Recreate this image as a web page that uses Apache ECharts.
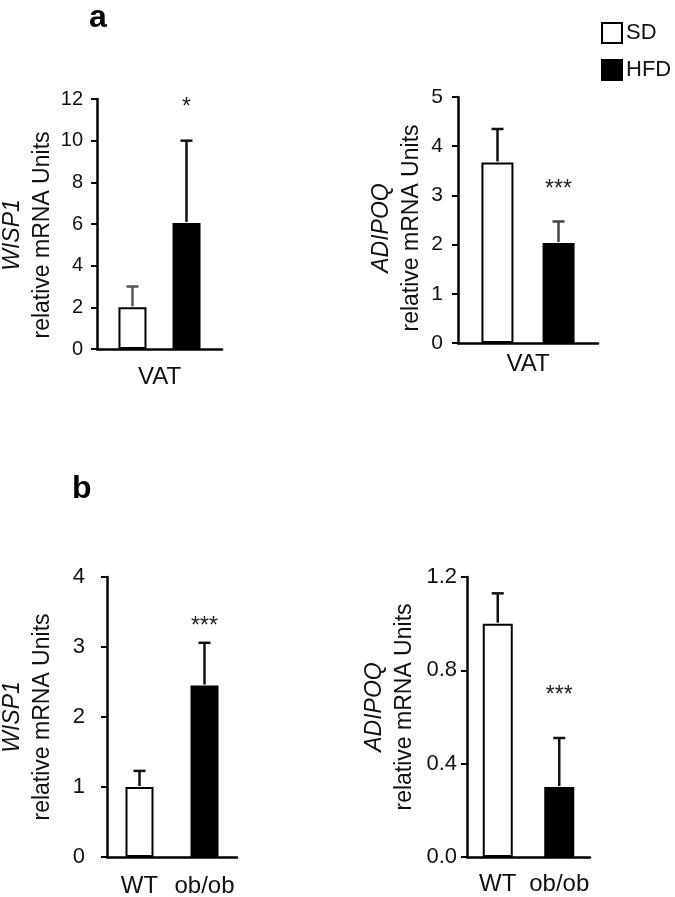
<!DOCTYPE html>
<html><head><meta charset="utf-8">
<script src="https://cdn.jsdelivr.net/npm/echarts@6.0.0/dist/echarts.min.js"></script>
<style>html,body{margin:0;padding:0;background:#fff}#c{width:675px;height:897px}</style>
</head><body><div id="c"></div>
<script>
// ---------- data ----------
const topCategory = ['VAT'];
const groupNames = ['SD', 'HFD'];
const botCategories = ['WT', 'ob/ob'];
const wispA = [2.0, 6.05];
const wispAErr = [3.0, 10.0];
const adipoqA = [3.67, 2.03];
const adipoqAErr = [4.35, 2.47];
const wispB = [1.0, 2.45];
const wispBErr = [1.23, 3.06];
const adipoqB = [1.0, 0.30];
const adipoqBErr = [1.13, 0.51];
const sigText = ['*', '***', '***', '***'];
const sigY = [11.6, 3.11, 3.29, 0.69];
const yMax = [12, 5, 4, 1.2];
const yInterval = [2, 1, 1, 0.4];
const yDecimals = [0, 0, 0, 1];
const geneNames = ['WISP1', 'ADIPOQ', 'WISP1', 'ADIPOQ'];
const panelLetters = ['a', 'b'];

// ---------- layout / style ----------
const FONT = "'Liberation Sans', Arial, sans-serif";
const fillColors = ['#ffffff', '#000000'];
const errColors = [['#555', '#111'], ['#111', '#444'], ['#111', '#111'], ['#111', '#111']];
const grids = [
  {left: 97, top: 99, width: 125, height: 250},
  {left: 458, top: 97, width: 140, height: 246},
  {left: 107, top: 577, width: 130, height: 280},
  {left: 467, top: 577, width: 123, height: 280}
];
const barW = [28, 32, 28, 30];
const barGapPx = [26, 29, 0, 0];
const nameGaps = [39, 31, 49, 47];
const namePad = [22, 16, 0, -20];
const yLabelMargin = [14, 15, 22, 10];
const yLabelSize = [20, 21, 22, 22];
const xLabelMargin = [16, 9, 17, 15];

const means = [wispA, adipoqA, wispB, adipoqB];
const uppers = [wispAErr, adipoqAErr, wispBErr, adipoqBErr];
const isTop = [true, true, false, false];

const xAxes = [], yAxes = [], series = [];
for (let g = 0; g < 4; g++) {
  xAxes.push({
    type: 'category', gridIndex: g,
    data: isTop[g] ? topCategory : botCategories,
    axisLine: {lineStyle: {color: '#000', width: 2.5}},
    axisTick: {show: false},
    axisLabel: {fontSize: 24, color: '#111', fontFamily: FONT, margin: xLabelMargin[g],
      interval: 0, hideOverlap: false}
  });
  yAxes.push({
    type: 'value', gridIndex: g, min: 0, max: yMax[g], interval: yInterval[g],
    splitLine: {show: false},
    axisLine: {show: true, lineStyle: {color: '#000', width: 2.5}},
    axisTick: {show: true, length: 6, lineStyle: {color: '#000', width: 2}},
    axisLabel: {fontSize: yLabelSize[g], color: '#111', fontFamily: FONT, margin: yLabelMargin[g],
      formatter: (v) => v.toFixed(yDecimals[g])},
    name: '{i|' + geneNames[g] + '}\n{n|relative mRNA Units}',
    nameLocation: 'middle', nameRotate: 90, nameGap: nameGaps[g],
    nameMoveOverlap: false,
    nameTextStyle: {
      color: '#111', fontFamily: FONT, fontSize: 23, lineHeight: 30,
      padding: namePad[g] >= 0 ? [0, namePad[g], 0, 0] : [0, 0, 0, -namePad[g]],
      rich: {
        i: {fontStyle: 'italic', fontSize: 23, lineHeight: 30, fontFamily: FONT, color: '#111'},
        n: {fontSize: 23, lineHeight: 30, fontFamily: FONT, color: '#111'}
      }
    }
  });

  let offsets;
  if (isTop[g]) {
    const half = (barW[g] + barGapPx[g]) / 2;
    offsets = [-half, half];
    groupNames.forEach((nm, k) => {
      series.push({
        type: 'bar', name: nm, xAxisIndex: g, yAxisIndex: g,
        data: [means[g][k]], barWidth: barW[g],
        barGap: Math.round(barGapPx[g] / barW[g] * 100) + '%',
        itemStyle: {color: fillColors[k], borderColor: '#000', borderWidth: 2},
        z: 2
      });
    });
  } else {
    offsets = [0, 0];
    series.push({
      type: 'bar', name: 'panelb' + g, xAxisIndex: g, yAxisIndex: g,
      data: means[g].map((v, k) => ({value: v, itemStyle: {color: fillColors[k]}})),
      barWidth: barW[g],
      itemStyle: {borderColor: '#000', borderWidth: 2},
      z: 2
    });
  }
  // error bars
  const errData = means[g].map((m, k) => [isTop[g] ? 0 : k, m, uppers[g][k], k]);
  series.push({
    type: 'custom', xAxisIndex: g, yAxisIndex: g, z: 3,
    encode: {x: 0, y: 1},
    data: errData,
    renderItem: (params, api) => {
      const c = api.value(0), m = api.value(1), u = api.value(2), k = api.value(3);
      const p0 = api.coord([c, m]);
      const p1 = api.coord([c, u]);
      const x = p0[0] + offsets[k];
      const col = errColors[g][k];
      return {type: 'group', children: [
        {type: 'line', shape: {x1: x, y1: p0[1] - 1, x2: x, y2: p1[1]}, style: {stroke: col, lineWidth: 2.5}},
        {type: 'line', shape: {x1: x - 6, y1: p1[1], x2: x + 6, y2: p1[1]}, style: {stroke: col, lineWidth: 2.5}}
      ]};
    }
  });
  // significance marks (over second bar)
  series.push({
    type: 'custom', xAxisIndex: g, yAxisIndex: g, z: 4,
    encode: {x: 0, y: 1},
    data: [[isTop[g] ? 0 : 1, sigY[g], 1]],
    renderItem: (params, api) => {
      const p = api.coord([api.value(0), api.value(1)]);
      const x = p[0] + offsets[api.value(2)];
      return {type: 'text', x: x, y: p[1], style: {
        text: sigText[g], fontSize: 23, fontFamily: FONT, fill: '#222',
        align: 'center', verticalAlign: 'middle'}};
    }
  });
}

const chart = echarts.init(document.getElementById('c'), null, {renderer: 'canvas'});
chart.setOption({
  animation: false,
  backgroundColor: '#fff',
  grid: grids.map(gr => Object.assign({containLabel: false, outerBoundsMode: 'none'}, gr)),
  xAxis: xAxes,
  yAxis: yAxes,
  title: [
    {text: panelLetters[0], left: 84, top: -3, textStyle: {fontSize: 32, fontWeight: 'bold', color: '#000', fontFamily: FONT}},
    {text: panelLetters[1], left: 67, top: 468, textStyle: {fontSize: 32, fontWeight: 'bold', color: '#000', fontFamily: FONT}}
  ],
  legend: {
    data: groupNames, orient: 'vertical', left: 596, top: 17,
    itemWidth: 20, itemHeight: 20, itemGap: 15, icon: 'rect',
    textStyle: {fontSize: 22, color: '#111', fontFamily: FONT, padding: [0, 0, 0, -1]},
    selectedMode: false
  },
  series: series
});
</script>
</body></html>
